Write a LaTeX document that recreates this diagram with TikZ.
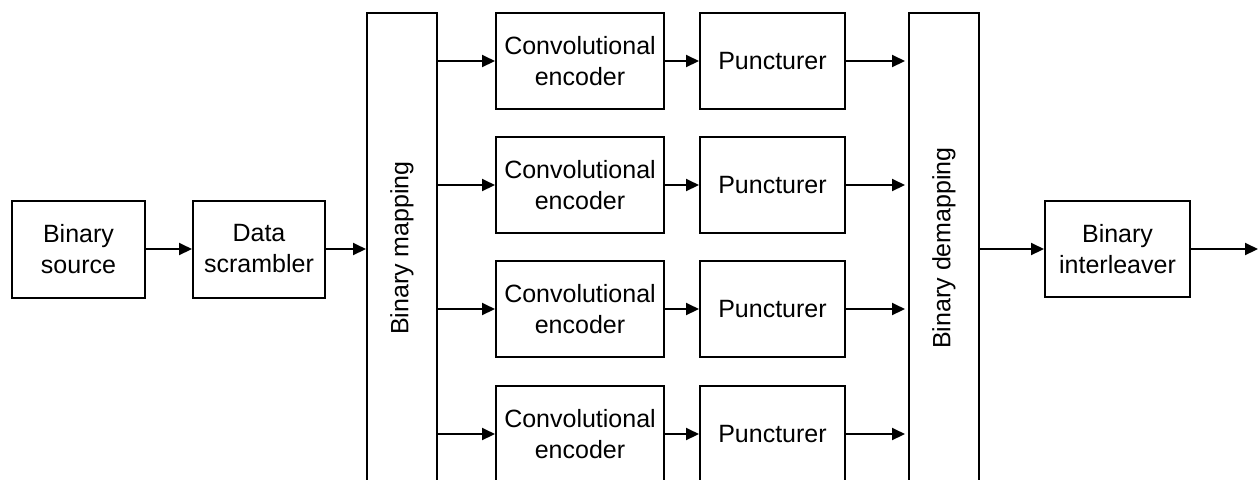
\documentclass[tikz,border=0pt]{standalone}
\usepackage{fontspec}
\setmainfont{Liberation Sans}
\usetikzlibrary{arrows.meta}
\begin{document}
\begin{tikzpicture}[x=0.5pt,y=-0.5pt,
  blk/.style={draw,line width=1pt,inner sep=0pt,align=center,
    font=\fontsize{12.5}{15.5}\selectfont},
  arr/.style={line width=1pt,-{Triangle[length=6.5pt,width=6pt]}}]
\useasboundingbox (0,0) rectangle (1258,479);
\node[blk,minimum width=66.5pt,minimum height=48.5pt] (src) at (78.5,249) {Binary\\source};
\node[blk,minimum width=66pt,minimum height=48.5pt] (scr) at (259,249) {Data\\scrambler};
\node[blk,minimum width=35pt,minimum height=235pt] (map) at (402,248) {};
\node[rotate=90,font=\fontsize{12.5}{15}\selectfont] (maplbl) at (map.center) {Binary mapping};
\foreach \i/\y in {1/61,2/185,3/309,4/434}{
  \node[blk,minimum width=84pt,minimum height=48pt] (enc\i) at (580,\y) {Convolutional\\encoder};
  \node[blk,minimum width=72.5pt,minimum height=48pt] (pun\i) at (772.5,\y) {Puncturer};
}
\node[blk,minimum width=35pt,minimum height=235pt] (dem) at (944,248) {};
\node[rotate=90,font=\fontsize{12.5}{15}\selectfont] (demlbl) at (dem.center) {Binary demapping};
\node[blk,minimum width=72.5pt,minimum height=48pt] (ilv) at (1117.5,249) {Binary\\interleaver};
\coordinate (out) at (1258,249);
\draw[arr] (src) -- (scr);
\draw[arr] (scr.east) -- (scr.east -| map.west);
\foreach \i in {1,2,3,4}{
  \draw[arr] (map.east |- enc\i.west) -- (enc\i.west);
  \draw[arr] (enc\i) -- (pun\i);
  \draw[arr,shorten >=1.5pt] (pun\i.east) -- (pun\i.east -| dem.west);
}
\draw[arr] (dem.east |- ilv.west) -- (ilv.west);
\draw[arr] (ilv.east) -- (out);
\end{tikzpicture}
\end{document}
